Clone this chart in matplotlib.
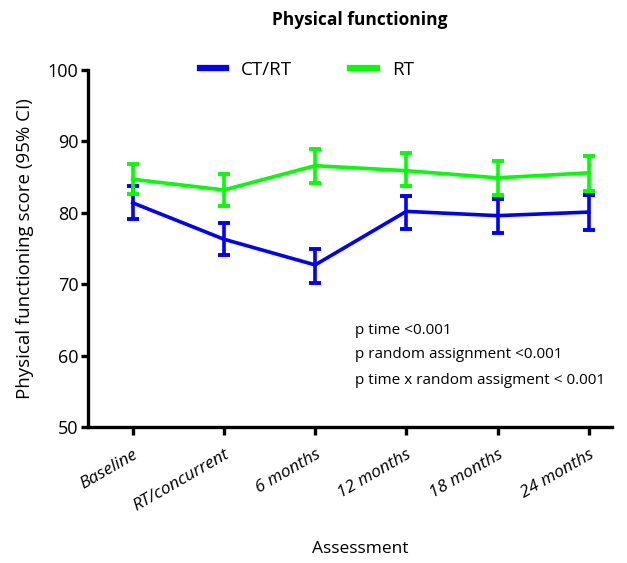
import matplotlib
matplotlib.use("Agg")
import matplotlib.pyplot as plt
from matplotlib.lines import Line2D
import numpy as np

categories = ["Baseline", "RT/concurrent", "6 months", "12 months", "18 months", "24 months"]
ctrt_mean = [81.4, 76.3, 72.7, 80.2, 79.6, 80.1]
ctrt_low = [79.2, 74.1, 70.2, 77.8, 77.2, 77.6]
ctrt_high = [83.7, 78.6, 74.9, 82.4, 81.9, 82.5]
rt_mean = [84.7, 83.2, 86.6, 85.9, 84.9, 85.6]
rt_low = [82.6, 80.9, 84.2, 83.8, 82.5, 83.1]
rt_high = [86.8, 85.5, 88.9, 88.4, 87.3, 88.0]
yticks = [50, 60, 70, 80, 90, 100]

plt.rcParams['font.family'] = ['Open Sans', 'DejaVu Sans']

fig = plt.figure(figsize=(6.27, 5.63), dpi=100)
ax = fig.add_axes([88/627, 1-427/563, (612-88)/627, (427-70)/563])

x = np.arange(1, len(categories)+1)
blue = "#0000ff"
green = "#00ff00"

def draw(mean, low, high, color):
    mean = np.array(mean); low = np.array(low); high = np.array(high)
    yerr = [mean-low, high-mean]
    ax.errorbar(x, mean, yerr=yerr, color=color, lw=2.6, elinewidth=2.6,
                capsize=4.5, capthick=2.8, clip_on=False)

draw(ctrt_mean, ctrt_low, ctrt_high, blue)
draw(rt_mean, rt_low, rt_high, green)

ax.set_xlim(0.51, 6.255)
ax.set_ylim(50, 100)
ax.set_yticks(yticks)
ax.set_xticks(x)
ax.set_xticklabels(categories, rotation=30, ha='right', rotation_mode='anchor',
                   fontsize=12.5, style='italic')
ax.tick_params(axis='y', labelsize=13, width=2.4, length=5, direction='out', pad=2)
ax.tick_params(axis='x', width=2.4, length=6, direction='out', pad=8)
for s in ['top', 'right']:
    ax.spines[s].set_visible(False)
for s in ['left', 'bottom']:
    ax.spines[s].set_linewidth(2.4)

ax.set_ylabel("Physical functioning score (95% CI)", fontsize=13.5, labelpad=10)
fig.text(360/627, 1-549/563, "Assessment", ha='center', va='center', fontsize=12.5)
fig.text(360/627, 1-20/563, "Physical functioning", ha='center', va='center',
         fontsize=12.5, fontweight='bold')

handles = [Line2D([], [], color=blue, lw=4.5), Line2D([], [], color=green, lw=4.5)]
leg = ax.legend(handles, ["CT/RT", "RT"], loc='center left',
                bbox_to_anchor=(95/524, 1.0), ncol=2, frameon=False,
                fontsize=13.5, handlelength=1.4, columnspacing=3.1, handletextpad=0.8)

for i, t in enumerate(["p time <0.001", "p random assignment <0.001",
                       "p time x random assigment < 0.001"]):
    fig.text(355/627, 1-(330+25*i)/563, t, ha='left', va='center', fontsize=11)

fig.savefig("out.png", dpi=100)
